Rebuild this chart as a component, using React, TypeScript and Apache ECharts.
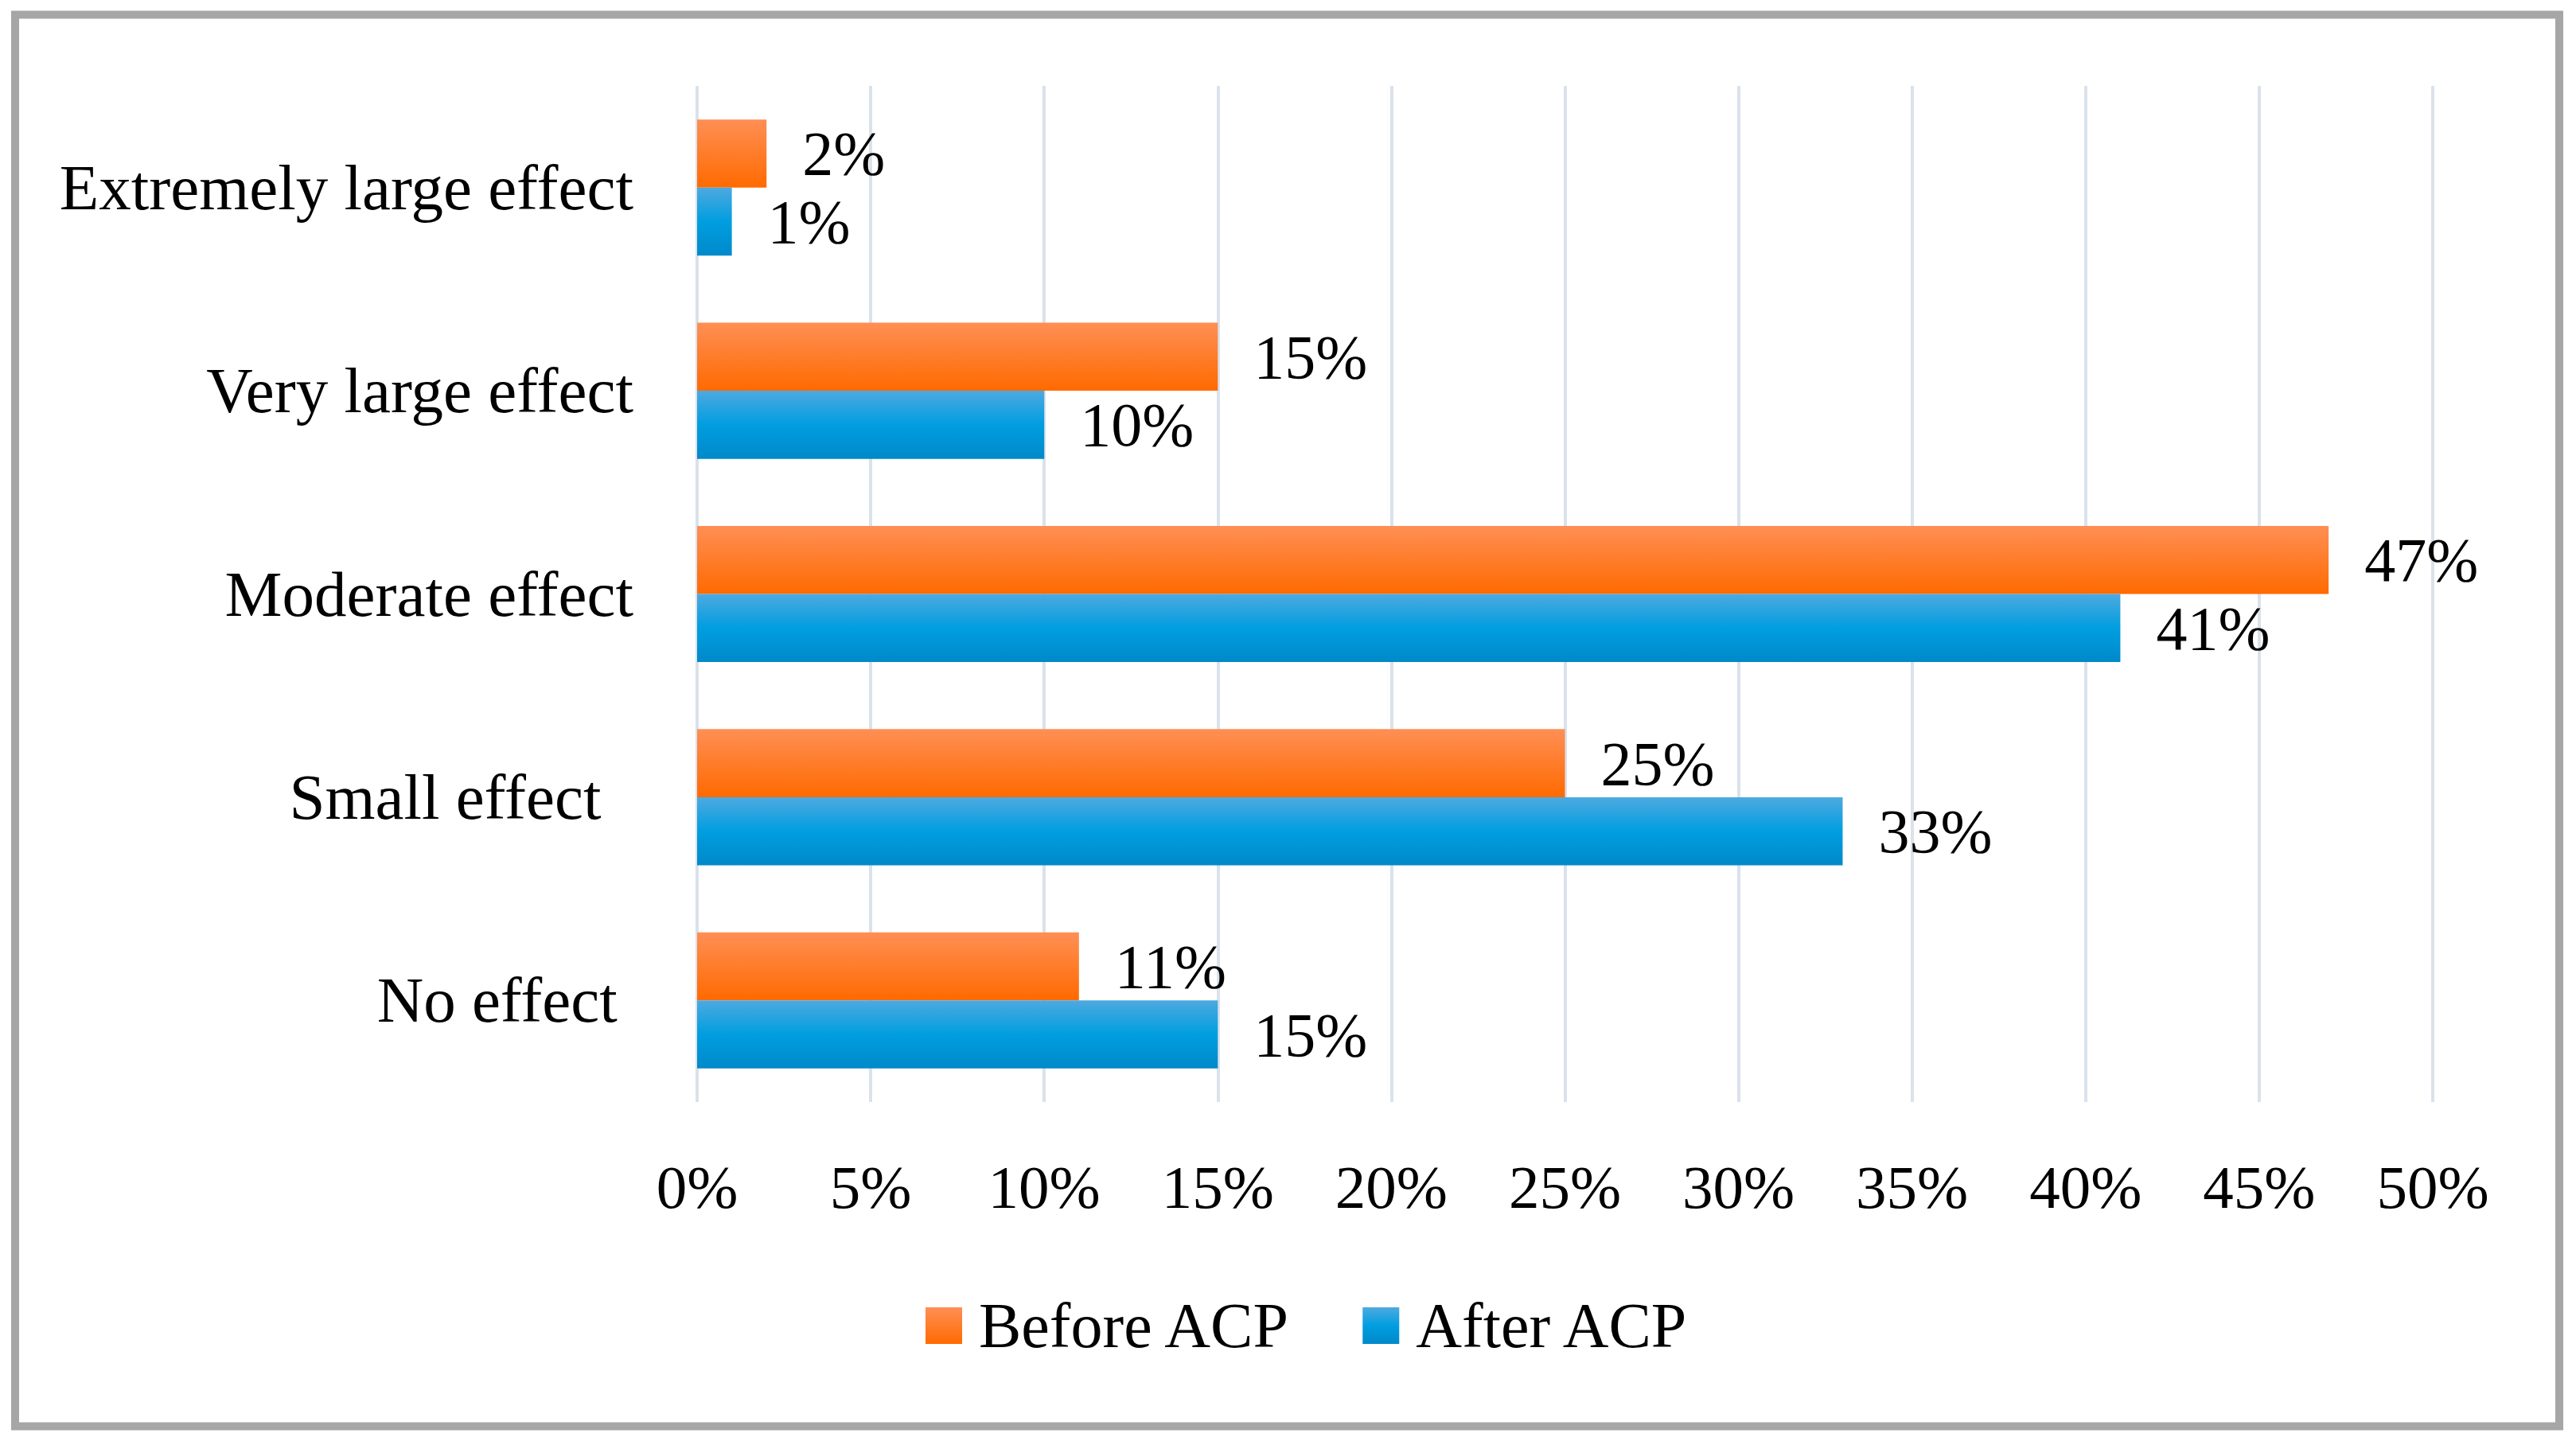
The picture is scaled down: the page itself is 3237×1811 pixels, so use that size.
import React, { useEffect, useRef } from "react";
import * as echarts from "echarts";

const categories = ["No effect ", "Small effect  ", "Moderate effect", "Very large effect", "Extremely large effect"];
const beforeACP = [11, 25, 47, 15, 2];
const afterACP = [15, 33, 41, 10, 1];
const seriesNames = ["Before ACP", "After ACP"];

const FONT = "'Liberation Serif', 'Times New Roman', serif";

const orange = new echarts.graphic.LinearGradient(0, 0, 0, 1, [
  { offset: 0, color: "#ff8f55" },
  { offset: 1, color: "#ff6a00" },
]);
const blue = new echarts.graphic.LinearGradient(0, 0, 0, 1, [
  { offset: 0, color: "#4ea9e0" },
  { offset: 0.5, color: "#009ee0" },
  { offset: 1, color: "#0089c9" },
]);

export default function App() {
  const ref = useRef<HTMLDivElement>(null);
  useEffect(() => {
    if (!ref.current) return;
    const chart = echarts.init(ref.current, undefined, { renderer: "svg" });
    const labelStyle = {
      show: true,
      position: "right",
      distance: 45,
      formatter: "{c}%",
      fontFamily: FONT,
      fontSize: 78,
      color: "#000",
    };
    chart.setOption({
      animation: false,
      backgroundColor: "#ffffff",
      graphic: [
        {
          type: "rect",
          shape: { x: 19, y: 18.5, width: 3197, height: 1774 },
          style: { fill: "none", stroke: "#a6a6a6", lineWidth: 10 },
          silent: true,
        },
      ],
      grid: { left: 876, right: 180, top: 108, bottom: 426, containLabel: false },
      legend: {
        data: seriesNames,
        left: 1158,
        top: 1621,
        icon: "rect",
        itemWidth: 46,
        itemHeight: 46,
        itemGap: 89,
        textStyle: { fontFamily: FONT, fontSize: 80, color: "#000", padding: [0, 0, 0, 16] },
      },
      xAxis: {
        type: "value",
        min: 0,
        max: 50,
        interval: 5,
        axisLine: { show: false },
        axisTick: { show: false },
        splitLine: { show: true, lineStyle: { color: "#dae2eb", width: 4 } },
        axisLabel: {
          formatter: "{value}%",
          margin: 68,
          fontFamily: FONT,
          fontSize: 77,
          color: "#000",
        },
      },
      yAxis: {
        type: "category",
        data: categories,
        axisLine: { show: false },
        axisTick: { show: false },
        splitLine: { show: false },
        axisLabel: {
          margin: 80,
          fontFamily: FONT,
          fontSize: 81,
          color: "#000",
          formatter: (v: string) => v.replace(/ +$/, (m) => "\u00a0".repeat(m.length)),
        },
      },
      series: [
        {
          name: seriesNames[0],
          type: "bar",
          data: beforeACP,
          barGap: "0%",
          barCategoryGap: "33%",
          itemStyle: { color: orange },
          label: labelStyle,
        },
        {
          name: seriesNames[1],
          type: "bar",
          data: afterACP,
          barGap: "0%",
          barCategoryGap: "33%",
          itemStyle: { color: blue },
          label: labelStyle,
        },
      ],
    });
    return () => chart.dispose();
  }, []);
  return (
    <div
      ref={ref}
      style={{ position: "fixed", left: 0, top: 0, width: 3237, height: 1811, background: "#fff" }}
    />
  );
}
